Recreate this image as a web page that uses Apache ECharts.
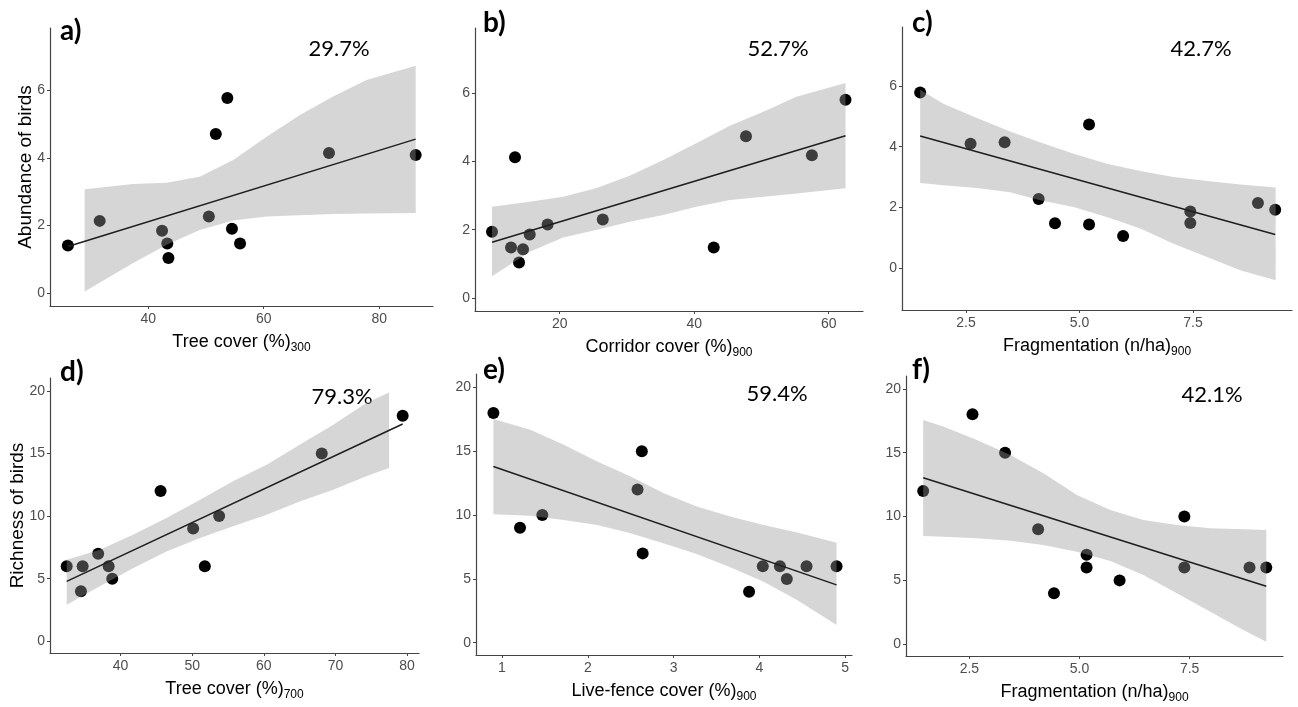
<!DOCTYPE html>
<html>
<head>
<meta charset="utf-8">
<script src="https://cdn.jsdelivr.net/npm/echarts@6/dist/echarts.min.js"></script>
<style>
html,body{margin:0;padding:0;background:#fff;}
#chart{width:1298px;height:707px;}
</style>
</head>
<body>
<div id="chart"></div>
<script>
// ---------- DATA ----------
// a) Abundance vs Tree cover (%)300
const aX = [26.1, 31.6, 42.4, 43.3, 43.5, 50.5, 51.7, 53.7, 54.5, 55.9, 71.3, 86.3];
const aY = [1.41, 2.14, 1.85, 1.47, 1.04, 2.27, 4.71, 5.78, 1.91, 1.47, 4.15, 4.09];
const aFitX = [26.1, 86.3];
const aFitY = [1.38, 4.56];
const aBandX = [29.0, 37.4, 43.2, 48.9, 54.7, 60.5, 66.2, 72.0, 77.8, 86.3];
const aBandUp = [3.08, 3.23, 3.27, 3.45, 3.94, 4.63, 5.27, 5.82, 6.31, 6.73];
const aBandLo = [0.05, 0.89, 1.43, 1.87, 2.15, 2.27, 2.31, 2.34, 2.36, 2.37];

// b) Abundance vs Corridor cover (%)900
const bX = [9.93, 12.76, 13.35, 13.95, 14.54, 15.54, 18.2, 26.4, 42.9, 47.7, 57.5, 62.5];
const bY = [1.94, 1.48, 4.12, 1.04, 1.43, 1.86, 2.15, 2.30, 1.48, 4.73, 4.18, 5.80];
const bFitX = [9.93, 62.5];
const bFitY = [1.63, 4.75];
const bBandX = [9.93, 15.54, 20.5, 25.4, 30.4, 35.4, 40.3, 45.3, 50.3, 55.2, 62.5];
const bBandUp = [2.67, 2.82, 2.96, 3.21, 3.58, 4.04, 4.53, 5.04, 5.45, 5.89, 6.29];
const bBandLo = [0.64, 1.35, 1.77, 1.99, 2.23, 2.43, 2.67, 2.87, 2.96, 3.06, 3.21];

// c) Abundance vs Fragmentation (n/ha)900
const cX = [1.49, 2.60, 3.35, 4.10, 4.46, 5.21, 5.21, 5.96, 7.44, 7.44, 8.93, 9.31];
const cY = [5.79, 4.10, 4.15, 2.27, 1.47, 4.73, 1.43, 1.05, 1.86, 1.48, 2.14, 1.92];
const cFitX = [1.49, 9.31];
const cFitY = [4.35, 1.10];
const cBandX = [1.49, 2.0, 2.74, 3.47, 4.13, 4.87, 5.60, 6.34, 7.07, 7.81, 8.54, 9.32];
const cBandUp = [5.88, 5.42, 4.95, 4.50, 4.15, 3.77, 3.44, 3.20, 3.00, 2.87, 2.75, 2.65];
const cBandLo = [2.80, 2.73, 2.64, 2.50, 2.23, 2.01, 1.68, 1.30, 0.80, 0.36, -0.08, -0.41];

// d) Richness vs Tree cover (%)700
const dX = [32.47, 34.46, 34.7, 36.87, 38.33, 38.83, 45.58, 50.13, 51.76, 53.76, 68.09, 79.39];
const dY = [6, 4, 6, 7, 6, 5, 12, 9, 6, 10, 15, 18];
const dFitX = [32.47, 79.39];
const dFitY = [4.79, 17.35];
const dBandX = [32.47, 37.1, 41.8, 46.4, 51.1, 55.7, 60.4, 65.0, 69.7, 74.3, 77.49];
const dBandUp = [6.52, 7.32, 8.52, 9.85, 11.31, 12.77, 14.1, 15.7, 17.29, 19.02, 19.87];
const dBandLo = [2.93, 4.39, 5.86, 7.18, 8.25, 9.18, 10.11, 11.17, 12.1, 13.17, 13.84];

// e) Richness vs Live-fence cover (%)900
const eX = [0.90, 1.21, 1.47, 2.58, 2.63, 2.64, 3.88, 4.04, 4.24, 4.32, 4.55, 4.90];
const eY = [18, 9, 10, 12, 15, 7, 4, 6, 6, 5, 6, 6];
const eFitX = [0.90, 4.90];
const eFitY = [13.8, 4.53];
const eBandX = [0.90, 1.33, 1.72, 2.11, 2.50, 2.88, 3.27, 3.66, 4.05, 4.44, 4.90];
const eBandUp = [17.52, 16.68, 15.5, 14.2, 13.02, 11.72, 10.67, 9.88, 9.23, 8.63, 7.84];
const eBandLo = [10.07, 9.94, 9.62, 9.23, 8.58, 7.8, 6.96, 5.91, 4.78, 3.35, 1.39];

// f) Richness vs Fragmentation (n/ha)900
const fX = [1.45, 2.57, 3.31, 4.06, 4.42, 5.16, 5.16, 5.91, 7.38, 7.38, 8.86, 9.24];
const fY = [12, 18, 15, 9, 4, 7, 6, 5, 10, 6, 6, 6];
const fFitX = [1.45, 9.24];
const fFitY = [13.04, 4.54];
const fBandX = [1.45, 1.92, 2.67, 3.43, 4.18, 4.94, 5.70, 6.45, 7.21, 7.97, 8.72, 9.24];
const fBandUp = [17.55, 17.03, 15.99, 14.81, 13.38, 11.68, 10.51, 9.73, 9.34, 9.08, 9.0, 8.94];
const fBandLo = [8.47, 8.42, 8.29, 8.11, 7.77, 7.25, 6.52, 5.42, 3.99, 2.55, 1.12, 0.2];

// tick labels
const xTicksA = [40, 60, 80];
const xTicksB = [20, 40, 60];
const xTicksFrag = [2.5, 5.0, 7.5];
const xTicksD = [40, 50, 60, 70, 80];
const xTicksE = [1, 2, 3, 4, 5];
const yTicksAbund = [0, 2, 4, 6];
const yTicksRich = [0, 5, 10, 15, 20];

// texts
const panelLabels = ['a)', 'b)', 'c)', 'd)', 'e)', 'f)'];
const percentLabels = ['29.7%', '52.7%', '42.7%', '79.3%', '59.4%', '42.1%'];
const xTitles = [
  ['Tree cover (%)', '300'],
  ['Corridor cover (%)', '900'],
  ['Fragmentation (n/ha)', '900'],
  ['Tree cover (%)', '700'],
  ['Live-fence cover (%)', '900'],
  ['Fragmentation (n/ha)', '900']
];
const yTitles = ['Abundance of birds', null, null, 'Richness of birds', null, null];

// ---------- LAYOUT ----------
const panels = [
  {x: aX, y: aY, fx: aFitX, fy: aFitY, bx: aBandX, bu: aBandUp, bl: aBandLo, xt: xTicksA, yt: yTicksAbund,
   grid: {left: 50, top: 28, width: 383, height: 278}, xr: [23, 89.3], yr: [-0.38, 7.85], fmt: null,
   lab: [60, 31], pct: [339, 49], yGap: 15},
  {x: bX, y: bY, fx: bFitX, fy: bFitY, bx: bBandX, bu: bBandUp, bl: bBandLo, xt: xTicksB, yt: yTicksAbund,
   grid: {left: 475, top: 28, width: 388, height: 283}, xr: [7.4, 65.1], yr: [-0.38, 7.9], fmt: null,
   lab: [483, 23], pct: [778, 49], yGap: 20},
  {x: cX, y: cY, fx: cFitX, fy: cFitY, bx: cBandX, bu: cBandUp, bl: cBandLo, xt: xTicksFrag, yt: yTicksAbund,
   grid: {left: 902, top: 27, width: 390, height: 283}, xr: [1.09, 9.68], yr: [-1.39, 7.95], fmt: 1,
   lab: [912, 23], pct: [1201, 49], yGap: 20},
  {x: dX, y: dY, fx: dFitX, fy: dFitY, bx: dBandX, bu: dBandUp, bl: dBandLo, xt: xTicksD, yt: yTicksRich,
   grid: {left: 50, top: 378, width: 369, height: 275}, xr: [30.14, 81.67], yr: [-0.93, 21.02], fmt: null,
   lab: [60, 372], pct: [342, 397], yGap: 23},
  {x: eX, y: eY, fx: eFitX, fy: eFitY, bx: eBandX, bu: eBandUp, bl: eBandLo, xt: xTicksE, yt: yTicksRich,
   grid: {left: 476, top: 374, width: 376, height: 281}, xr: [0.697, 5.08], yr: [-0.96, 21.05], fmt: null,
   lab: [483, 370], pct: [777, 394], yGap: 20},
  {x: fX, y: fY, fx: fFitX, fy: fFitY, bx: fBandX, bu: fBandUp, bl: fBandLo, xt: xTicksFrag, yt: yTicksRich,
   grid: {left: 906, top: 376, width: 377, height: 280}, xr: [1.06, 9.62], yr: [-0.92, 21.0], fmt: 1,
   lab: [912, 370], pct: [1212, 395], yGap: 20}
];

const AXIS_COLOR = '#444';
const LABEL_COLOR = '#4d4d4d';
const SANS = '"Liberation Sans", Arial, sans-serif';
const CAL = 'Lato, "Open Sans", sans-serif';

const grids = [], xAxes = [], yAxes = [], series = [], graphics = [];

panels.forEach((p, i) => {
  grids.push(Object.assign({containLabel: false}, p.grid));
  xAxes.push({
    type: 'value', gridIndex: i, min: p.xr[0], max: p.xr[1],
    name: xTitles[i][0] + '{s|' + xTitles[i][1] + '}',
    nameLocation: 'middle', nameGap: 24,
    nameTextStyle: {fontSize: 18, fontFamily: SANS, color: '#000',
      rich: {s: {fontSize: 12, fontFamily: SANS, color: '#000', padding: [12, 0, 0, 0]}}},
    splitLine: {show: false},
    axisLine: {show: true, onZero: false, lineStyle: {color: AXIS_COLOR, width: 1.2}},
    axisTick: {show: true, length: 3, customValues: p.xt, lineStyle: {color: AXIS_COLOR}},
    axisLabel: {customValues: p.xt, fontSize: 14, fontFamily: SANS, color: LABEL_COLOR, margin: 6,
      formatter: p.fmt ? (v => Number(v).toFixed(p.fmt)) : (v => String(v))}
  });
  yAxes.push({
    type: 'value', gridIndex: i, min: p.yr[0], max: p.yr[1],
    name: yTitles[i] || '', nameLocation: 'middle', nameRotate: 90, nameGap: p.yGap,
    nameMoveOverlap: false,
    nameTextStyle: {fontSize: 19, fontFamily: SANS, color: '#000'},
    splitLine: {show: false},
    axisLine: {show: true, onZero: false, lineStyle: {color: AXIS_COLOR, width: 1.2}},
    axisTick: {show: true, length: 3, customValues: p.yt, lineStyle: {color: AXIS_COLOR}},
    axisLabel: {customValues: p.yt, fontSize: 14, fontFamily: SANS, color: LABEL_COLOR, margin: 5}
  });
  // points (drawn under the translucent ribbon, as in ggplot)
  series.push({
    type: 'scatter', xAxisIndex: i, yAxisIndex: i, z: 2,
    symbolSize: 12, itemStyle: {color: '#000', opacity: 1},
    data: p.x.map((v, k) => [v, p.y[k]])
  });
  // confidence ribbon
  const bx = p.bx, bu = p.bu, bl = p.bl;
  series.push({
    type: 'custom', xAxisIndex: i, yAxisIndex: i, z: 3, silent: true,
    data: [[bx[0], bu[0]]],
    renderItem: (params, api) => {
      const pts = [];
      for (let k = 0; k < bx.length; k++) pts.push(api.coord([bx[k], bu[k]]));
      for (let k = bx.length - 1; k >= 0; k--) pts.push(api.coord([bx[k], bl[k]]));
      return {type: 'polygon', shape: {points: pts}, style: {fill: 'rgba(153,153,153,0.4)', stroke: null}};
    }
  });
  // fitted line
  series.push({
    type: 'line', xAxisIndex: i, yAxisIndex: i, z: 4, symbol: 'none', silent: true,
    lineStyle: {color: '#1e1e1e', width: 1.5},
    data: p.fx.map((v, k) => [v, p.fy[k]])
  });
  graphics.push({
    type: 'text', x: p.lab[0], y: p.lab[1],
    style: {text: panelLabels[i], fontSize: 28, fontWeight: 'bold', fontFamily: CAL, fill: '#000',
      align: 'left', verticalAlign: 'middle'}
  });
  graphics.push({
    type: 'text', x: p.pct[0], y: p.pct[1],
    style: {text: percentLabels[i], fontSize: 22, fontFamily: CAL, fill: '#000',
      align: 'center', verticalAlign: 'middle'}
  });
});

const chart = echarts.init(document.getElementById('chart'), null, {renderer: 'canvas'});
chart.setOption({
  animation: false,
  backgroundColor: '#fff',
  grid: grids,
  xAxis: xAxes,
  yAxis: yAxes,
  series: series,
  graphic: graphics
});
</script>
</body>
</html>
